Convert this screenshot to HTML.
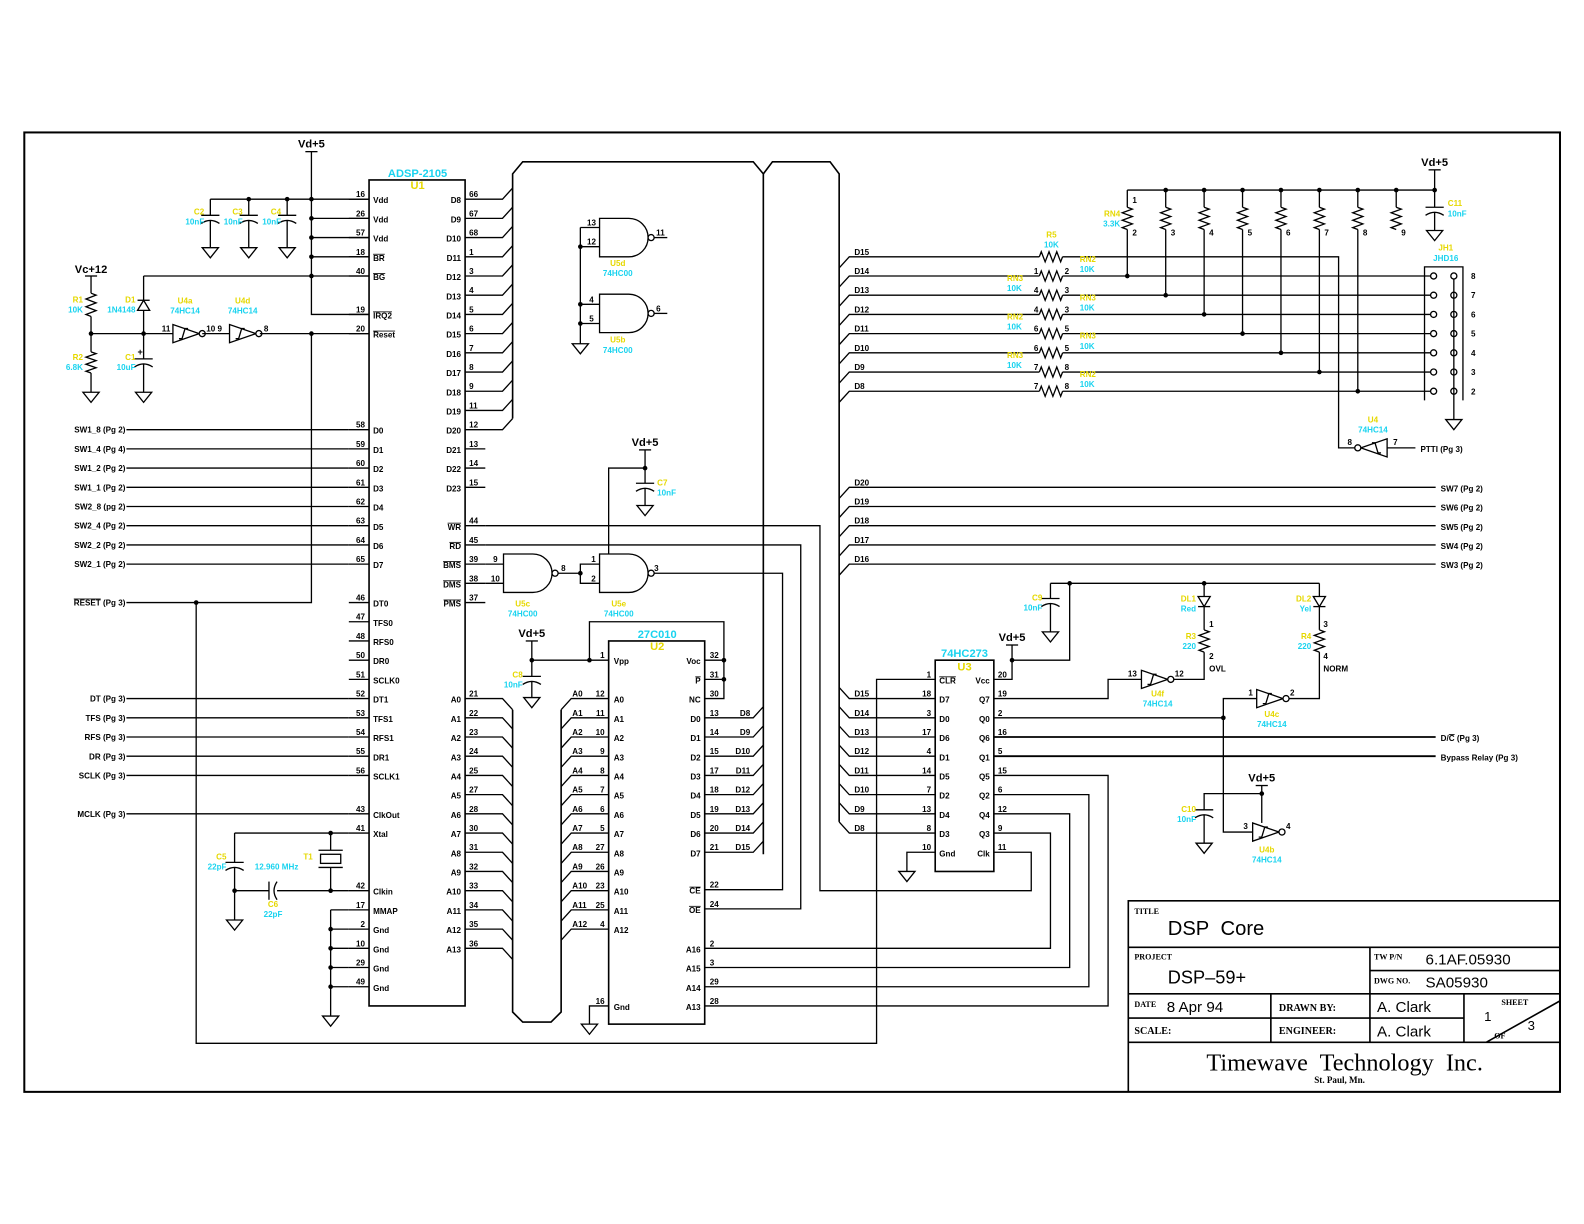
<!DOCTYPE html>
<html><head><meta charset="utf-8"><style>
html,body{margin:0;padding:0;background:#fff;}
svg{display:block;}
text{font-family:"Liberation Sans",sans-serif;font-weight:bold;stroke:none;}
.ov{text-decoration:overline;}
</style></head><body>
<svg id="sv" xmlns="http://www.w3.org/2000/svg" width="1584" height="1224" viewBox="0 0 1566.7 1210.7">
<rect width="1566.7" height="1210.7" fill="#fff"/>
<g id="w" fill="none" stroke="#000" stroke-width="1.3" stroke-linejoin="miter"></g>
<g id="tx" fill="#000"></g>
</svg>
<script>
let s='',t='';
const Y='#e6d800',C='#19d3ef';
function L(...p){s+=`<polyline points="${p.join(',')}"/>`;}
function D(x,y){s+=`<circle cx="${x}" cy="${y}" r="2.3" fill="#000" stroke="none"/>`;}
function O(x,y){s+=`<circle cx="${x}" cy="${y}" r="3" fill="#fff"/>`;}
function G(x,y){s+=`<polygon points="${x-8},${y} ${x+8},${y} ${x},${y+10}"/>`;}
function CV(x,y){L(x-9,y,x+9,y);s+=`<path d="M${x-9},${y+8} Q${x},${y+2} ${x+9},${y+8}"/>`;}
function CH(x,y){L(x,y-9,x,y+9);s+=`<path d="M${x+8},${y-9} Q${x+2},${y} ${x+8},${y+9}"/>`;}
function RV(x,a,b){let p=[x,a],n=6,d=(b-a)/n;for(let i=0;i<n;i++)p.push(x+(i%2?-5:5),a+d*(i+.5));p.push(x,b);L(...p);}
function RH(a,b,y){let p=[a,y],n=6,d=(b-a)/n;for(let i=0;i<n;i++)p.push(a+d*(i+.5),y+(i%2?5:-5));p.push(b,y);L(...p);}
function INV(x,y){s+=`<polygon points="${x},${y-9} ${x},${y+9} ${x+26},${y}"/>`;O(x+29,y);L(x+6,y+5,x+9,y+5,x+12,y-5,x+15,y-5);}
function INVL(x,y){s+=`<polygon points="${x},${y-9} ${x},${y+9} ${x-26},${y}"/>`;O(x-29,y);L(x-6,y+5,x-9,y+5,x-12,y-5,x-15,y-5);}
function NAND(x,y){s+=`<path d="M${x},${y-19} H${x+29} A19 19 0 0 1 ${x+29},${y+19} H${x} Z"/>`;O(x+51,y);}
function DD(x,y){s+=`<polygon points="${x-6},${y-5} ${x+6},${y-5} ${x},${y+5}"/>`;L(x-6,y+5,x+6,y+5);}
function DU(x,y){s+=`<polygon points="${x-6},${y+5} ${x+6},${y+5} ${x},${y-5}"/>`;L(x-6,y-5,x+6,y-5);}
function T(x,y,str,o={}){let st=`font-size:${o.s||8}px;`;if(o.f)st+=`font-family:${o.f};font-weight:${o.w||'normal'};`;
 t+=`<text x="${x}" y="${y}" fill="${o.c||'#000'}" text-anchor="${o.a||'start'}"${o.ov?' class="ov"':''} style='${st}'>${str}</text>`;}
function V(x,y){T(x,y-4,'Vd+5',{s:11,a:'middle'});L(x-6,y,x+6,y);}
function lab(x,y,a,b,an){T(x,y,a,{c:Y,a:an||'start'});T(x,y+10,b,{c:C,a:an||'start'});}

s+=`<rect x="24" y="131" width="1519" height="949" stroke-width="2"/>`;

/* U1 */
s+=`<rect x="365" y="178" width="95" height="817" stroke-width="1.6"/>`;
T(413,175,'ADSP-2105',{s:11,c:C,a:'middle'});T(413,187,'U1',{s:11,c:Y,a:'middle'});
let lp=[[197,16,'Vdd'],[216,26,'Vdd'],[235,57,'Vdd'],[254,18,'BR',1],[273,40,'BG',1],[311,19,'IRQ2',1],[330,20,'Reset',1]];
for(let k=0;k<8;k++)lp.push([425+19*k,58+k,'D'+k]);
lp.push([596,46,'DT0'],[615,47,'TFS0'],[634,48,'RFS0'],[653,50,'DR0'],[672,51,'SCLK0'],[691,52,'DT1'],[710,53,'TFS1'],[729,54,'RFS1'],[748,55,'DR1'],[767,56,'SCLK1'],[805,43,'ClkOut'],[824,41,'Xtal'],[881,42,'Clkin'],[900,17,'MMAP'],[919,2,'Gnd'],[938,10,'Gnd'],[957,29,'Gnd'],[976,49,'Gnd']);
for(const [y,n,nm,ov] of lp){L(345,y,365,y);T(361,y-2,n,{a:'end'});T(369,y+4,nm,{ov:ov});}
let rn=[66,67,68,1,3,4,5,6,7,8,9,11,12];
for(let k=0;k<13;k++){let y=197+19*k;L(460,y,497,y,507,y-11);T(464,y-2,rn[k]);T(456,y+4,'D'+(8+k),{a:'end'});}
[[444,13,'D21'],[463,14,'D22'],[482,15,'D23'],[520,44,'WR',1],[539,45,'RD',1],[558,39,'BMS',1],[577,38,'DMS',1],[596,37,'PMS',1]].forEach(([y,n,nm,ov])=>{L(460,y,480,y);T(464,y-2,n);T(456,y+4,nm,{a:'end',ov:ov});});
let an=[21,22,23,24,25,27,28,30,31,32,33,34,35,36];
for(let k=0;k<14;k++){let y=691+19*k;L(460,y,497,y,507,y+11);T(464,y-2,an[k]);T(456,y+4,'A'+k,{a:'end'});}

/* left side */
V(308,150);L(308,150,308,311,365,311);
L(208,197,365,197);L(308,216,365,216);L(308,235,365,235);L(308,254,365,254);L(142,273,365,273);
[[246,197],[284,197],[308,197],[308,216],[308,235],[308,254],[308,273]].forEach(p=>D(...p));
[[208,'C2'],[246,'C3'],[284,'C4']].forEach(([x,n])=>{L(x,197,x,213);CV(x,213);L(x,218,x,245);G(x,245);lab(x-6,212,n,'10nF','end');});
T(90,270,'Vc+12',{s:11,a:'middle'});L(84,273,96,273);
L(90,273,90,290);RV(90,290,313);L(90,313,90,348);RV(90,348,369);L(90,369,90,388);G(90,388);D(90,330);
lab(82,299,'R1','10K','end');lab(82,356,'R2','6.8K','end');
L(142,273,142,297);DU(142,302);L(142,307,142,355);CV(142,355);L(142,360,142,388);G(142,388);D(142,330);
lab(134,299,'D1','1N4148','end');lab(134,356,'C1','10uF','end');T(136,351,'+',{s:9});
L(90,330,171,330);INV(171,330);L(200,330,227,330);INV(227,330);L(257,330,365,330);D(308,330);
T(160,328,'11');T(204,328,'10 9');T(261,328,'8');
lab(183,300,'U4a','74HC14','middle');lab(240,300,'U4d','74HC14','middle');
L(308,330,308,596,125,596);D(194,596);
L(194,596,194,1032,867,1032,867,672,925,672);
t+=`<text x="124" y="599" text-anchor="end" style="font-size:8px"><tspan class="ov">RESET</tspan> (Pg 3)</text>`;
const sw=['SW1_8 (Pg 2)','SW1_4 (Pg 4)','SW1_2 (Pg 2)','SW1_1 (Pg 2)','SW2_8 (pg 2)','SW2_4 (Pg 2)','SW2_2 (Pg 2)','SW2_1 (Pg 2)'];
for(let k=0;k<8;k++){let y=425+19*k;L(125,y,345,y);T(124,y+3,sw[k],{a:'end'});}
[[691,'DT (Pg 3)'],[710,'TFS (Pg 3)'],[729,'RFS (Pg 3)'],[748,'DR (Pg 3)'],[767,'SCLK (Pg 3)'],[805,'MCLK (Pg 3)']].forEach(([y,l])=>{L(125,y,345,y);T(124,y+3,l,{a:'end'});});
/* crystal */
L(232,824,345,824);L(232,824,232,853);CV(232,853);L(232,858,232,910);G(232,910);D(232,881);
L(232,881,266,881);CH(266,881);L(274,881,345,881);
L(327,824,327,841);L(315,841,339,841);s+=`<rect x="317" y="845" width="20" height="9"/>`;L(315,858,339,858);L(327,858,327,881);D(327,824);D(327,881);
lab(224,850,'C5','22pF','end');T(300,850,'T1',{c:Y});T(252,860,'12.960 MHz',{c:C});lab(270,897,'C6','22pF','middle');
L(327,900,345,900);L(327,900,327,1005);G(327,1005);[919,938,957,976].forEach(y=>{D(327,y);L(327,y,345,y);});

/* buses */
s+=`<g stroke-width="1.6">`;
L(507,414,507,172,517,160,745,160,755,172,755,845);
L(755,172,764,160,821,160,830,172,830,813);
L(507,702,507,1001,517,1011,545,1011,555,1001,555,702);
s+=`</g>`;

/* U5a/b */
NAND(593,235);NAND(593,310);
L(574,225,593,225);L(574,244,593,244);L(574,301,593,301);L(574,320,593,320);
L(574,225,574,340);G(574,340);D(574,244);D(574,301);D(574,320);
L(647,235,660,235);L(647,310,660,310);
T(585,223,'13',{a:'middle'});T(585,242,'12',{a:'middle'});T(649,233,'11');T(585,299,'4',{a:'middle'});T(585,318,'5',{a:'middle'});T(649,308,'6');
lab(611,263,'U5d','74HC00','middle');lab(611,339,'U5b','74HC00','middle');
/* U5c/e */
NAND(498,567);L(480,558,498,558);L(480,577,498,577);
T(490,556,'9',{a:'middle'});T(490,575,'10',{a:'middle'});
L(552,567,574,567);D(574,567);L(593,558,574,558,574,577,593,577);
T(555,565,'8');T(587,556,'1',{a:'middle'});T(587,575,'2',{a:'middle'});
NAND(593,567);T(647,565,'3');L(647,567,774,567,774,880,697,880);
lab(517,600,'U5c','74HC00','middle');lab(612,600,'U5e','74HC00','middle');
V(638,445);L(638,445,638,478);CV(638,478);L(638,483,638,500);G(638,500);D(638,463);L(638,463,602,463,602,548);lab(650,480,'C7','10nF');
L(480,520,811,520,811,881,1020,881,1020,843,983,843);
L(480,539,792,539,792,899,697,899);

/* U2 */
s+=`<rect x="602" y="634" width="95" height="379" stroke-width="1.6"/>`;
T(650,631,'27C010',{s:11,c:C,a:'middle'});T(650,643,'U2',{s:11,c:Y,a:'middle'});
L(583,653,602,653);T(598,651,'1',{a:'end'});T(607,657,'Vpp');
let u2l=[12,11,10,9,8,7,6,5,27,26,23,25,4];
for(let k=0;k<13;k++){let y=691+19*k;L(555,y+11,565,y,602,y);T(566,y-2,'A'+k);T(598,y-2,u2l[k],{a:'end'});T(607,y+4,'A'+k);}
L(602,995,583,995,583,1013);G(583,1013);T(598,993,'16',{a:'end'});T(607,999,'Gnd');
V(526,634);L(526,634,526,669);CV(526,669);L(526,674,526,690);G(526,690);D(526,653);L(526,653,583,653);lab(517,670,'C8','10nF','end');
D(583,653);L(583,653,583,615,716,615,716,691,697,691);L(697,653,716,653);L(697,672,716,672);D(716,653);D(716,672);
[[653,32,'Voc'],[672,31,'P',1],[691,30,'NC'],[880,22,'CE',1],[899,24,'OE',1],[938,2,'A16'],[957,3,'A15'],[976,29,'A14'],[995,28,'A13']].forEach(([y,n,nm,ov])=>{T(702,y-2,n);T(693,y+4,nm,{a:'end',ov:ov});});
let u2d=[13,14,15,17,18,19,20,21];
for(let k=0;k<8;k++){let y=710+19*k;L(697,y,745,y,755,y-11);T(702,y-2,u2d[k]);T(693,y+4,'D'+k,{a:'end'});T(742,y-2,'D'+(8+k),{a:'end'});}
L(697,938,1039,938,1039,824,983,824);L(697,957,1058,957,1058,805,983,805);
L(697,976,1077,976,1077,786,983,786);L(697,995,1096,995,1096,767,983,767);

/* U3 */
s+=`<rect x="925" y="653" width="58" height="209" stroke-width="1.6"/>`;
T(954,650,'74HC273',{s:11,c:C,a:'middle'});T(954,663,'U3',{s:11,c:Y,a:'middle'});
[[672,1,'CLR',1],[691,18,'D7'],[710,3,'D0'],[729,17,'D6'],[748,4,'D1'],[767,14,'D5'],[786,7,'D2'],[805,13,'D4'],[824,8,'D3'],[843,10,'Gnd']].forEach(([y,n,nm,ov])=>{T(921,y-2,n,{a:'end'});T(929,y+4,nm,{ov:ov});});
[[672,20,'Vcc'],[691,19,'Q7'],[710,2,'Q0'],[729,16,'Q6'],[748,5,'Q1'],[767,15,'Q5'],[786,6,'Q2'],[805,12,'Q4'],[824,9,'Q3'],[843,11,'Clk']].forEach(([y,n,nm])=>{T(987,y-2,n);T(979,y+4,nm,{a:'end'});});
for(let k=0;k<8;k++){let y=691+19*k;L(830,y-11,840,y,925,y);T(845,y-2,'D'+(15-k));}
L(925,843,897,843,897,862);G(897,862);
V(1001,638);L(983,672,1001,672,1001,638);D(1001,653);L(1001,653,1058,653,1058,577);
L(1039,577,1305,577);D(1058,577);D(1191,577);
L(1039,577,1039,592);CV(1039,592);L(1039,597,1039,625);G(1039,625);lab(1031,594,'C9','10nF','end');
L(1191,577,1191,590);DD(1191,595);L(1191,600,1191,623);RV(1191,623,645);L(1191,645,1191,672,1158,672);
INV(1129,672);L(1129,672,1096,672,1096,691,983,691);
T(1196,664,'OVL');T(1120,669,'13',{a:'middle'});T(1162,669,'12');T(1196,620,'1');T(1196,652,'2');
lab(1183,595,'DL1','Red','end');lab(1183,632,'R3','220','end');lab(1145,689,'U4f','74HC14','middle');
L(1305,577,1305,590);DD(1305,595);L(1305,600,1305,623);RV(1305,623,645);L(1305,645,1305,691,1272,691);
INV(1243,691);L(1243,691,1210,691,1210,823,1239,823);D(1210,710);L(983,710,1210,710);
T(1309,664,'NORM');T(1309,620,'3');T(1309,652,'4');T(1237,688,'1',{a:'middle'});T(1276,688,'2');
lab(1297,595,'DL2','Yel','end');lab(1297,632,'R4','220','end');lab(1258,709,'U4c','74HC14','middle');
INV(1239,823);T(1232,820,'3',{a:'middle'});T(1272,820,'4');lab(1253,843,'U4b','74HC14','middle');
V(1248,777);L(1248,777,1248,814);D(1248,785);L(1248,785,1191,785,1191,801);CV(1191,801);L(1191,806,1191,834);G(1191,834);lab(1183,803,'C10','10nF','end');
s+=`<g stroke-width="1.8">`;L(983,729,1420,729);L(983,748,1420,748);s+=`</g>`;
t+=`<text x="1425" y="733" style="font-size:8px">D/<tspan class="ov">C</tspan> (Pg 3)</text>`;
T(1425,752,'Bypass Relay (Pg 3)');

/* top right */
V(1419,168);L(1419,168,1419,188);L(1115,188,1419,188);D(1419,188);
const cx=[1115,1153,1191,1229,1267,1305,1343,1381];
cx.forEach((x,i)=>{if(i)D(x,188);L(x,188,x,205);RV(x,205,227);if(i<7){L(x,227,x,273+19*i);D(x,273+19*i);}T(x+5,233,i+2);});
T(1120,201,'1');lab(1108,214,'RN4','3.3K','end');
L(1419,188,1419,205);CV(1419,205);L(1419,210,1419,228);G(1419,228);lab(1432,204,'C11','10nF');
const rl=[['R5','r'],['RN2','r'],['RN3','l'],['RN3','r'],['RN2','l'],['RN3','r'],['RN3','l'],['RN2','r']];
const pn=[['',''],['1','2'],['4','3'],['4','3'],['6','5'],['6','5'],['7','8'],['7','8']];
for(let k=0;k<8;k++){let y=254+19*k;L(830,y+11,840,y,1028,y);RH(1028,1051,y);T(845,y-2,'D'+(15-k));
 T(1027,y-2,pn[k][0],{a:'end'});T(1053,y-2,pn[k][1]);
 if(k==0){lab(1040,235,'R5','10K','middle');L(1051,y,1324,y,1324,443,1340,443);}
 else{L(1051,y,1415,y);O(1418,y);O(1438,y);T(1455,y+3,9-k);
  if(rl[k][1]=='r')lab(1068,y-14,rl[k][0],'10K');else lab(996,y-14,rl[k][0],'10K');}}
L(1438,276,1438,415);G(1438,415);L(1409,396,1409,264,1447,264,1447,396);
lab(1430,248,'JH1','JHD16','middle');
INVL(1372,443);L(1372,443,1400,443);T(1335,440,'8',{a:'middle'});T(1378,440,'7');T(1405,447,'PTTI (Pg 3)');lab(1358,418,'U4','74HC14','middle');
const sws=['SW7 (Pg 2)','SW6 (Pg 2)','SW5 (Pg 2)','SW4 (Pg 2)','SW3 (Pg 2)'];
for(let k=0;k<5;k++){let y=482+19*k;L(830,y+11,840,y,1420,y);T(845,y-2,'D'+(20-k));T(1425,y+4,sws[k]);}

/* title block */
s+=`<g stroke-width="1.6">`;
L(1116,1080,1116,891,1543,891);L(1116,937,1543,937);L(1116,983,1543,983);L(1116,1007,1448,1007);L(1116,1031,1543,1031);
L(1355,937,1355,1031);L(1355,960,1543,960);L(1257,983,1257,1031);L(1448,983,1448,1031);L(1470,1031,1543,990);
s+=`</g>`;
const ff='"Liberation Sans",sans-serif',sf='"Liberation Serif",serif';
T(1122,904,'TITLE',{s:8,f:sf,w:'bold'});T(1155,925,'DSP&#160; Core',{s:20,f:ff});
T(1122,949,'PROJECT',{s:8,f:sf,w:'bold'});T(1155,973,'DSP&#8211;59+',{s:18,f:ff});
T(1359,949,'TW P/N',{s:8,f:sf,w:'bold'});T(1410,954,'6.1AF.05930',{s:15,f:ff});
T(1359,973,'DWG NO.',{s:8,f:sf,w:'bold'});T(1410,977,'SA05930',{s:15,f:ff});
T(1122,996,'DATE',{s:8,f:sf,w:'bold'});T(1154,1001,'8 Apr 94',{s:15,f:ff});
T(1265,1000,'DRAWN BY:',{s:10,f:sf,w:'bold'});T(1362,1001,'A. Clark',{s:15,f:ff});
T(1122,1023,'SCALE:',{s:10,f:sf,w:'bold'});T(1265,1023,'ENGINEER:',{s:10,f:sf,w:'bold'});T(1362,1025,'A. Clark',{s:15,f:ff});
T(1485,994,'SHEET',{s:8,f:sf,w:'bold'});T(1468,1010,'1',{s:13,f:ff});T(1511,1019,'3',{s:13,f:ff});T(1478,1027,'OF',{s:8,f:sf,w:'bold'});
T(1330,1059,'Timewave&#160; Technology&#160; Inc.',{s:24,a:'middle',f:sf});
T(1325,1071,'St. Paul, Mn.',{s:9,a:'middle',f:sf,w:'bold'});

document.getElementById('w').innerHTML=s;
document.getElementById('tx').innerHTML=t;
</script>
</body></html>
